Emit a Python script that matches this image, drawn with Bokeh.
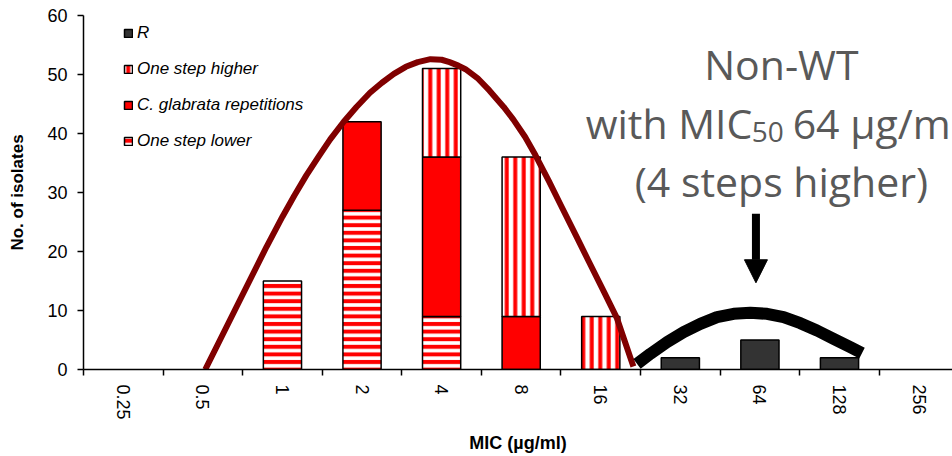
import numpy as np
from bokeh.plotting import figure
from bokeh.models import (ColumnDataSource, FixedTicker, Range1d, Legend, LegendItem,
                          Arrow, NormalHead, Label)
from bokeh.embed import file_html
from bokeh.resources import INLINE

# ---------------- data ----------------
categories = ["0.25", "0.5", "1", "2", "4", "8", "16", "32", "64", "128", "256"]
one_step_lower = [0, 0, 15, 27, 9, 0, 0, 0, 0, 0, 0]
repetitions = [0, 0, 0, 15, 27, 9, 0, 0, 0, 0, 0]
one_step_higher = [0, 0, 0, 0, 15, 27, 9, 0, 0, 0, 0]
resistant = [0, 0, 0, 0, 0, 0, 0, 2, 5, 2, 0]

# fitted curves (x in category index units, centre of "0.25" = 0)
wt_curve_x = [1.03, 1.40, 1.80, 2.00, 2.15, 2.30, 2.45, 2.60, 2.77, 2.93, 3.10, 3.25,
              3.40, 3.55, 3.70, 3.86, 4.00, 4.10, 4.21, 4.30, 4.45, 4.60, 4.78, 4.90,
              5.05, 5.18, 5.35, 5.50, 5.70, 5.85, 6.05, 6.20, 6.41]
wt_curve_y = [0.0, 10.0, 20.8, 25.9, 29.5, 32.9, 36.0, 39.0, 42.0, 44.5, 46.9, 48.6,
              50.1, 51.3, 52.1, 52.6, 52.5, 52.1, 51.5, 50.9, 49.4, 47.3, 44.5, 42.4,
              39.4, 36.3, 31.9, 27.8, 22.4, 18.3, 12.9, 8.8, 0.5]
nwt_curve_x = [6.456, 6.623, 6.833, 7.041, 7.251, 7.461, 7.670, 7.879, 8.089, 8.298,
               8.508, 8.717, 8.926, 9.136, 9.283]
nwt_curve_y = [0.96, 2.66, 4.63, 6.33, 7.74, 8.87, 9.44, 9.60, 9.44, 8.87,
               7.85, 6.61, 5.20, 3.78, 2.77]

arrow_x = 7.95
arrow_y_start = 26.4
arrow_y_end = 14.7

# ---------------- figure ----------------
p = figure(width=952, height=456, x_range=Range1d(-0.5, 10.42), y_range=Range1d(0, 60),
           output_backend="svg", toolbar_location=None,
           min_border_left=83, min_border_right=0, min_border_top=15, min_border_bottom=87)
p.xgrid.visible = False
p.ygrid.visible = False
p.outline_line_color = None
p.background_fill_color = "white"

idx = np.arange(len(categories), dtype=float)

red = "#FF0000"
styles = [
    ("One step lower", one_step_lower,
     dict(fill_color="white", hatch_pattern="horizontal_line", hatch_color=red,
          hatch_scale=7.6, hatch_weight=4)),
    ("C. glabrata repetitions", repetitions, dict(fill_color=red)),
    ("One step higher", one_step_higher,
     dict(fill_color="white", hatch_pattern="vertical_line", hatch_color=red,
          hatch_scale=8.5, hatch_weight=4)),
    ("R", resistant, dict(fill_color="#333333")),
]

renderers = {}
bottom = np.zeros(len(categories))
for name, vals, st in styles:
    v = np.array(vals, dtype=float)
    m = v > 0
    src = ColumnDataSource(dict(x=idx[m], bottom=bottom[m], top=(bottom + v)[m]))
    r = p.vbar(x="x", bottom="bottom", top="top", width=0.48, source=src,
               line_color="black", line_width=1.5, **st)
    renderers[name] = r
    bottom = bottom + v

# curves
p.line(wt_curve_x, wt_curve_y, line_color="#800000", line_width=6, line_cap="butt",
       line_join="round")
p.line(nwt_curve_x, nwt_curve_y, line_color="black", line_width=12, line_cap="butt",
       line_join="round")

# arrow
p.add_layout(Arrow(end=NormalHead(size=23, fill_color="black", line_color="black", line_width=1),
                   x_start=arrow_x, y_start=arrow_y_start, x_end=arrow_x, y_end=arrow_y_end,
                   line_color="black", line_width=8))

# annotation text
grey = "#595959"
font = "Open Sans"
p.add_layout(Label(x=8.27, y=51.86, text="Non-WT", text_font=font, text_font_size="41px",
                   text_color=grey, text_align="center", text_baseline="alphabetic"))
p.add_layout(Label(x=5.81, y=41.86, text="with MIC", text_font=font, text_font_size="41px",
                   text_color=grey, text_align="left", text_baseline="alphabetic"))
p.add_layout(Label(x=5.81, y=40.17, x_offset=166, text="50", text_font=font,
                   text_font_size="28px", text_color=grey, text_align="left",
                   text_baseline="alphabetic"))
p.add_layout(Label(x=5.81, y=41.86, x_offset=207, text="64 µg/ml", text_font=font,
                   text_font_size="41px", text_color=grey, text_align="left",
                   text_baseline="alphabetic"))
p.add_layout(Label(x=8.27, y=32.03, text="(4 steps higher)", text_font=font,
                   text_font_size="41px", text_color=grey, text_align="center",
                   text_baseline="alphabetic"))

# axes
ax_font = "Liberation Sans"
xa = p.xaxis[0]
xa.ticker = FixedTicker(ticks=list(range(len(categories))),
                        minor_ticks=[i - 0.5 for i in range(len(categories) + 1)])
xa.major_label_overrides = {i: c for i, c in enumerate(categories)}
xa.major_label_orientation = "vertical"
xa.major_tick_out = 0
xa.major_tick_in = 0
xa.minor_tick_out = 6
xa.minor_tick_in = 0
xa.major_label_standoff = 9
xa.major_label_text_font = ax_font
xa.major_label_text_font_size = "18px"
xa.major_label_text_color = "black"
xa.axis_line_color = "black"
xa.axis_line_width = 1.5
xa.minor_tick_line_color = "black"
xa.minor_tick_line_width = 1.5
xa.axis_label = "MIC (µg/ml)"
xa.axis_label_text_font = ax_font
xa.axis_label_text_font_size = "18px"
xa.axis_label_text_font_style = "bold"
xa.axis_label_text_color = "black"
xa.axis_label_standoff = 10

ya = p.yaxis[0]
ya.ticker = FixedTicker(ticks=[0, 10, 20, 30, 40, 50, 60], minor_ticks=[])
ya.major_tick_out = 6
ya.major_tick_in = 0
ya.major_tick_line_color = "black"
ya.major_tick_line_width = 1.5
ya.minor_tick_out = 0
ya.minor_tick_in = 0
ya.major_label_standoff = 10
ya.major_label_text_font = ax_font
ya.major_label_text_font_size = "18px"
ya.major_label_text_color = "black"
ya.axis_line_color = "black"
ya.axis_line_width = 1.5
ya.axis_label = "No. of isolates"
ya.axis_label_text_font = ax_font
ya.axis_label_text_font_size = "17px"
ya.axis_label_text_font_style = "bold"
ya.axis_label_text_color = "black"
ya.axis_label_standoff = 17

# legend
legend = Legend(items=[
    LegendItem(label="R", renderers=[renderers["R"]]),
    LegendItem(label="One step higher", renderers=[renderers["One step higher"]]),
    LegendItem(label="C. glabrata repetitions", renderers=[renderers["C. glabrata repetitions"]]),
    LegendItem(label="One step lower", renderers=[renderers["One step lower"]]),
], location=(40, 218))
legend.margin = 0
legend.padding = 0
legend.spacing = 16
legend.glyph_width = 10
legend.glyph_height = 10
legend.label_height = 20
legend.label_standoff = 4
legend.label_text_font = ax_font
legend.label_text_font_size = "17px"
legend.label_text_font_style = "italic"
legend.label_text_color = "black"
legend.border_line_color = None
legend.background_fill_alpha = 0
p.add_layout(legend)

open("out.html", "w").write(file_html(p, INLINE))
